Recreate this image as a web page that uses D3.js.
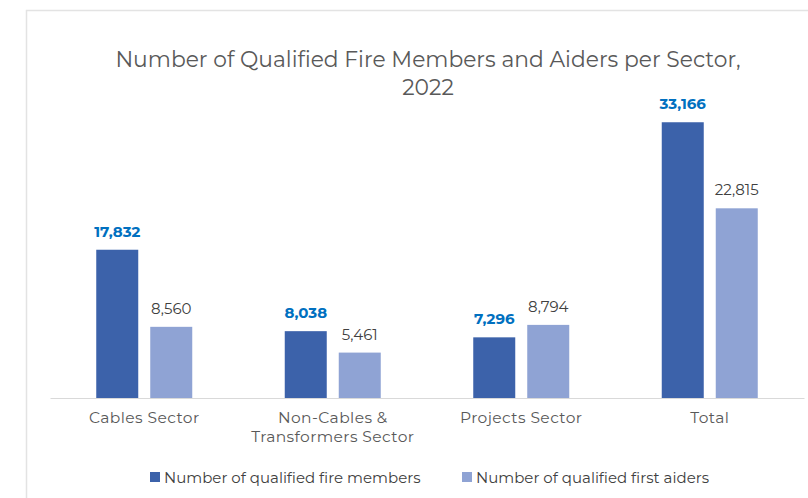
<!DOCTYPE html>
<html>
<head>
<meta charset="utf-8">
<script src="https://cdn.jsdelivr.net/npm/d3@7"></script>
<style>
  html, body { margin: 0; padding: 0; background: #ffffff; }
  svg { display: block; }
</style>
</head>
<body>
<svg id="chart" width="808" height="498"></svg>
<script>
// Qualified fire members and first aiders per sector, 2022
const categories = [["Cables Sector"], ["Non-Cables &", "Transformers Sector"], ["Projects Sector"], ["Total"]];
const fireMembers = [17832, 8038, 7296, 33166];
const firstAiders = [8560, 5461, 8794, 22815];
const seriesNames = ["Number of qualified fire members", "Number of qualified first aiders"];
const titleLines = ["Number of Qualified Fire Members and Aiders per Sector,", "2022"];

const colors = ["#3C62AA", "#8FA3D4"];
const labelColors = ["#0070C0", "#404040"];
const font = "Montserrat, 'Noto Sans', 'Open Sans', sans-serif";

const svg = d3.select("#chart");

// panel frame (top and left edges)
svg.append("path")
  .attr("d", "M26.5,498 L26.5,10.5 L808,10.5")
  .attr("fill", "none")
  .attr("stroke", "#e3e3e3")
  .attr("stroke-width", 1.5);

// title
svg.append("g").selectAll("text")
  .data(titleLines)
  .join("text")
  .attr("x", 428)
  .attr("y", (d, i) => 67 + i * 28)
  .attr("text-anchor", "middle")
  .attr("font-family", font)
  .attr("font-size", 21.8)
  .attr("fill", "#595959")
  .text(d => d);

const x0 = d3.scaleBand()
  .domain(d3.range(categories.length))
  .range([50, 804])
  .paddingInner(0)
  .paddingOuter(0);

const x1 = d3.scaleBand()
  .domain([0, 1])
  .range([x0.bandwidth() / 2 - 48, x0.bandwidth() / 2 + 48])
  .paddingInner(12 / 54)
  .paddingOuter(0);

const y = d3.scaleLinear()
  .domain([0, 35000])
  .range([398, 107]);

const series = [fireMembers, firstAiders];
const fmt = d3.format(",");

const groups = svg.append("g").selectAll("g")
  .data(categories.map((c, i) => i))
  .join("g")
  .attr("transform", i => `translate(${x0(i)},0)`);

groups.selectAll("rect")
  .data(i => series.map((s, k) => ({ k, v: s[i] })))
  .join("rect")
  .attr("x", d => x1(d.k))
  .attr("width", x1.bandwidth())
  .attr("y", d => y(d.v))
  .attr("height", d => y(0) - y(d.v))
  .attr("fill", d => colors[d.k]);

groups.selectAll("text.value")
  .data(i => series.map((s, k) => ({ k, v: s[i] })))
  .join("text")
  .attr("class", "value")
  .attr("x", d => x1(d.k) + x1.bandwidth() / 2)
  .attr("y", d => y(d.v) - 13)
  .attr("text-anchor", "middle")
  .attr("font-family", font)
  .attr("font-size", 15)
  .attr("font-weight", d => d.k === 0 ? 700 : 400)
  .attr("fill", d => labelColors[d.k])
  .text(d => fmt(d.v));

// category axis
const axis = svg.append("g")
  .attr("transform", `translate(0,${y(0)})`)
  .call(d3.axisBottom(x0).tickSize(0).tickFormat(""));
axis.select(".domain").attr("stroke", "#d9d9d9").attr("stroke-width", 1.2);

axis.selectAll(".tick").each(function(i) {
  const t = d3.select(this).append("text")
    .attr("text-anchor", "middle")
    .attr("font-family", font)
    .attr("font-size", 15.5)
    .attr("letter-spacing", 0.4)
    .attr("fill", "#595959");
  categories[i].forEach((line, j) => {
    t.append("tspan").attr("x", 0).attr("y", 25 + j * 19).text(line);
  });
});

// legend
const legendX = [150, 462];
const legend = svg.append("g").selectAll("g")
  .data(seriesNames)
  .join("g")
  .attr("transform", (d, i) => `translate(${legendX[i]},472)`);
legend.append("rect")
  .attr("width", 10).attr("height", 10)
  .attr("fill", (d, i) => colors[i]);
legend.append("text")
  .attr("x", 14).attr("y", 10.5)
  .attr("font-family", font)
  .attr("font-size", 15)
  .attr("fill", "#404040")
  .text(d => d);
</script>
</body>
</html>
